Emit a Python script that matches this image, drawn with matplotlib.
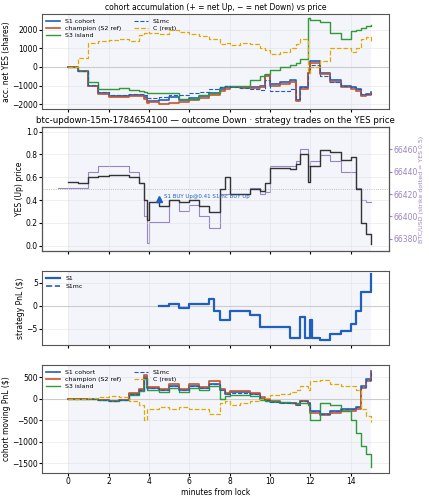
import matplotlib
matplotlib.use("Agg")
import matplotlib.pyplot as plt
import numpy as np

t = [0,0.5,1,1.5,2,2.5,3,3.5,3.75,3.9,4,4.5,5,5.5,6,6.5,7,7.5,7.75,8,8.5,9,9.5,9.75,10,10.5,11,11.3,11.5,11.9,12,12.5,13,13.5,14,14.25,14.5,14.75,15]

# panel 1: accumulation (shares)
acc_s1   = [0,-200,-1000,-1400,-1550,-1550,-1500,-1500,-1600,-1800,-1800,-1750,-1600,-1750,-1650,-1550,-1400,-1200,-1100,-1050,-1100,-1100,-1000,-450,-900,-800,-700,-1750,-1100,-300,300,-300,-700,-1000,-1100,-1200,-1500,-1450,-1350]
acc_chp  = [0,-200,-1000,-1450,-1600,-1600,-1550,-1550,-1700,-1950,-1900,-2000,-1950,-1900,-1750,-1650,-1500,-1300,-1200,-1100,-1150,-1150,-1100,-500,-1000,-900,-800,-1800,-1200,-300,200,-400,-800,-1050,-1200,-1300,-1550,-1500,-1450]
acc_s1mc = [0,-200,-950,-1350,-1500,-1500,-1450,-1450,-1500,-1650,-1650,-1600,-1500,-1500,-1400,-1350,-1200,-1050,-1000,-1050,-1150,-1200,-1250,-700,-1300,-1300,-1200,-1700,-1100,-300,100,-500,-800,-1000,-1100,-1200,-1450,-1450,-1400]
acc_s3   = [0,-200,-800,-1200,-1200,-1150,-1250,-1300,-1350,-1400,-1400,-1400,-1400,-1700,-1700,-1500,-1400,-1100,-1000,-1000,-1000,-700,-500,-400,-150,0,100,200,400,2600,2500,2400,1800,1500,1900,2000,2100,2200,2250]
acc_c    = [0,500,1300,1400,1450,1500,1400,1700,1800,1850,1800,1750,1950,1850,1750,1650,1500,1250,1300,1150,1300,1200,1000,900,700,800,1000,1200,1500,-300,0,300,1000,1000,800,1000,1500,1600,1400]

# panel 2: YES price and BTC
yes  = [0.56,0.55,0.60,0.61,0.62,0.62,0.60,0.55,0.40,0.23,0.38,0.35,0.40,0.38,0.40,0.35,0.30,0.50,0.60,0.45,0.45,0.50,0.48,0.55,0.68,0.68,0.67,0.72,0.80,0.56,0.70,0.84,0.82,0.75,0.78,0.50,0.20,0.10,0.02]
btc_t = [-0.5,0]+t[1:]
btc  = [66425,66425,66425,66440,66445,66445,66445,66440,66430,66400,66376,66395,66395,66415,66405,66410,66400,66390,66420,66420,66420,66420,66425,66420,66422,66445,66445,66445,66450,66460,66445,66450,66455,66450,66440,66440,66425,66415,66413,66413]

# panel 3: strategy PnL
pnl_t  = [4.5,5,5.5,6,6.5,7,7.25,7.5,8,8.5,9,9.5,10,10.5,11,11.5,11.75,12,12.1,12.5,13,13.5,14,14.25,14.5,15]
pnl_s1 = [0,0.5,-0.5,0.5,0.5,1.5,-1,-3,-1,-1,-2,-4.5,-4.5,-4.5,-7,-2.5,-7,-3,-7,-7.5,-6,-5.5,-4,-1,3,7]

# panel 4: moving PnL ($)
mv_s1  = [0,0,-20,-30,-50,-40,100,200,500,250,250,200,300,200,300,250,350,200,100,150,150,100,0,-30,-80,-100,-100,-150,-50,-100,-300,-350,-300,-250,-250,-200,300,450,650]
mv_chp = [0,0,-20,-30,-50,-40,120,230,550,280,280,230,330,230,330,280,400,230,120,170,170,130,30,0,-60,-100,-100,-150,-50,-100,-330,-380,-330,-280,-280,-250,250,400,620]
mv_s1mc= [0,0,-20,-30,-50,-40,100,190,480,240,240,190,290,190,290,240,340,190,100,140,140,100,0,-30,-80,-100,-100,-150,-50,-100,-300,-350,-300,-250,-250,-200,280,430,640]
mv_s3  = [0,0,-20,-30,-50,-40,80,180,450,200,200,150,250,150,250,200,300,0,50,80,80,50,-30,-50,-50,-80,-100,-100,-100,-150,-500,-100,-150,-300,-500,-800,-1100,-1300,-1600]
mv_c   = [0,0,20,30,50,40,-50,-150,-500,-250,-250,-200,-250,-200,-250,-250,-350,-100,-50,-150,-100,-50,-10,20,80,100,150,200,300,200,400,420,350,300,300,200,-250,-400,-550]

BLUE="#1f5fbf"; RED="#c8532c"; GREEN="#2e9a3a"; GOLD="#e0a800"; PURPLE="#9b85c4"

fig = plt.figure(figsize=(4.29,5.0), dpi=100)
L, W = 42/429, 347/429
def ax_at(top, bot):
    return fig.add_axes([L, 1-bot/500, W, (bot-top)/500])
a1 = ax_at(14,109); a2 = ax_at(127,251); a3 = ax_at(271,345); a4 = ax_at(365,473)
for a in (a1,a2,a3,a4):
    a.set_xlim(-1.3,15.9)
    if a is not a2:
        a.axvspan(0,15,color="#eef1f8",alpha=0.7,lw=0,zorder=0)
    a.grid(True,color="#dddddd",lw=0.5,alpha=0.6)
    a.tick_params(labelsize=5.5,length=2,pad=1)
    for s in a.spines.values(): s.set_color("#555555")
    a.set_xticks([0,2,4,6,8,10,12,14])
    if a is not a4: a.tick_params(labelbottom=False)

fs=5.5
# panel 1
a1.axhline(0,color="#cccccc",lw=0.8)
a1.plot(t,acc_s1,color=BLUE,lw=1.2,drawstyle="steps-post",label="S1 cohort")
a1.plot(t,acc_chp,color=RED,lw=1.2,drawstyle="steps-post",label="champion (S2 ref)")
a1.plot(t,acc_s3,color=GREEN,lw=1.0,drawstyle="steps-post",label="S3 island")
a1.plot(t,acc_s1mc,color=BLUE,lw=0.8,ls="--",drawstyle="steps-post",label="S1mc")
a1.plot(t,acc_c,color=GOLD,lw=0.9,ls="--",drawstyle="steps-post",label="C (rest)")
a1.set_ylim(-2250,2830)
a1.set_yticks([-2000,-1000,0,1000,2000])
a1.set_ylabel("acc. net YES (shares)",fontsize=fs,labelpad=1)
a1.set_title("cohort accumulation (+ = net Up, − = net Down) vs price",fontsize=5.5,pad=3)
a1.legend(ncol=2,fontsize=4.5,loc="upper left",frameon=False,handlelength=2.2,borderaxespad=0.3,labelspacing=0.3)

# panel 2
a2b = a2.twinx()
a2b.axvspan(0,15,color="#eef1f8",alpha=0.7,lw=0,zorder=0)
a2b.plot(btc_t,btc,color=PURPLE,lw=0.8,drawstyle="steps-post",zorder=2)
a2b.set_ylim(66369,66480)
a2b.set_yticks([66380,66400,66420,66440,66460])
a2b.tick_params(labelsize=5.5,length=2,pad=1,colors=PURPLE)
a2b.set_ylabel("BTC/USD (strike dotted = YES 0.5)",fontsize=4.5,color=PURPLE,labelpad=1)
a2.set_zorder(a2b.get_zorder()+1); a2.patch.set_visible(False)
a2.axhline(0.5,color="#aaaaaa",lw=0.6,ls=":")
a2.plot(t,yes,color="#333333",lw=1.0,drawstyle="steps-post",zorder=3)
a2.set_ylim(-0.045,1.04)
a2.set_ylabel("YES (Up) price",fontsize=fs,labelpad=1)
a2.set_title("btc-updown-15m-1784654100 — outcome Down · strategy trades on the YES price",fontsize=6.2,pad=3)
a2.plot([4.5],[0.41],marker="^",color=BLUE,ms=5,zorder=4)
a2.text(4.75,0.42,"S1 BUY Up@0.41 S1mc BUY Up",fontsize=4,color=BLUE,zorder=5)

# panel 3
a3.axhline(0,color="#cccccc",lw=0.8)
a3.plot(pnl_t,pnl_s1,color=BLUE,lw=1.6,drawstyle="steps-post",label="S1")
a3.plot(pnl_t,pnl_s1,color=BLUE,lw=1.2,ls="--",drawstyle="steps-post",label="S1mc")
a3.set_ylim(-8.5,7.6)
a3.set_yticks([-5,0,5])
a3.set_ylabel("strategy PnL ($)",fontsize=fs,labelpad=1)
a3.legend(fontsize=4.5,loc="upper left",frameon=False,handlelength=2.2,borderaxespad=0.3)

# panel 4
a4.axhline(0,color="#cccccc",lw=0.8)
a4.plot(t,mv_s1,color=BLUE,lw=1.2,drawstyle="steps-post",label="S1 cohort")
a4.plot(t,mv_chp,color=RED,lw=1.2,drawstyle="steps-post",label="champion (S2 ref)")
a4.plot(t,mv_s3,color=GREEN,lw=1.0,drawstyle="steps-post",label="S3 island")
a4.plot(t,mv_s1mc,color=BLUE,lw=0.8,ls="--",drawstyle="steps-post",label="S1mc")
a4.plot(t,mv_c,color=GOLD,lw=0.9,ls="--",drawstyle="steps-post",label="C (rest)")
a4.set_ylim(-1730,780)
a4.set_yticks([-1500,-1000,-500,0,500])
a4.set_ylabel("cohort moving PnL ($)",fontsize=fs,labelpad=1)
a4.set_xlabel("minutes from lock",fontsize=fs,labelpad=1)
a4.legend(ncol=2,fontsize=4.5,loc="upper left",frameon=False,handlelength=2.2,borderaxespad=0.3,labelspacing=0.3)

fig.savefig("out.png",dpi=100)
